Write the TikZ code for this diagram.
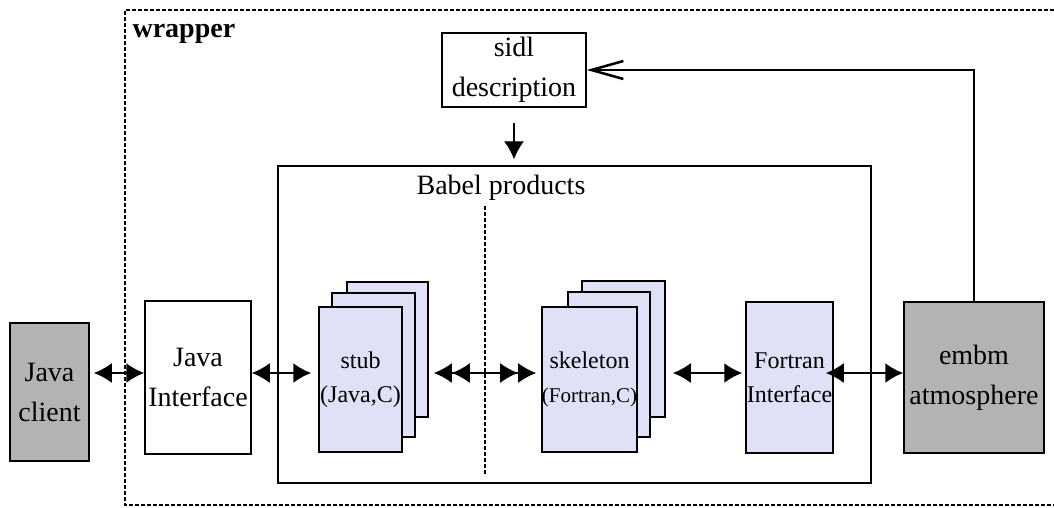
\documentclass[tikz,border=0pt]{standalone}
\usepackage{fontspec}
\setmainfont{Liberation Serif}
\usetikzlibrary{arrows.meta}
\definecolor{boxgray}{RGB}{179,179,179}
\definecolor{lavender}{RGB}{224,224,246}

\begin{document}
\begin{tikzpicture}[x=1pt,y=-1pt,>={Latex[length=18pt,width=20pt]},
	plain node/.style={draw,line width=1.5pt,inner sep=0pt,align=center,font=\fontsize{28}{40}\selectfont},
	grey node/.style={plain node,fill=boxgray},
	sheet node/.style={plain node,fill=lavender,font=\fontsize{24}{34}\selectfont},
	link/.style={<->,line width=2pt},
	fence/.style={dash pattern=on 4pt off 2pt,line width=1.2pt}]

	\useasboundingbox (0,0) rectangle (1054,507);

	% wrapper frame, open to the right
	\draw[fence] (1054,10) -- (125,10) -- (125,505) -- (1054,505);
	\node[font=\fontsize{28}{34}\selectfont\bfseries,anchor=base west] (wrap) at (129,37) {wrapper};

	% babel products
	\node[draw,line width=1.5pt,minimum width=593pt,minimum height=317pt] (babel) at (574.5,324.5) {};
	\node[font=\fontsize{28}{34}\selectfont] (babeltxt) at (501,188) {Babel products};
	\draw[fence] (485,206) -- (485,475);

	\node[plain node,minimum width=144pt,minimum height=74pt] (sidl) at (514,70) {sidl\\description};

	\node[grey node,minimum width=79pt,minimum height=138pt] (jc) at (49.5,392) {Java\\client};
	\node[plain node,minimum width=106pt,minimum height=153pt] (ji) at (198,377.5) {Java\\Interface};

	% stub pages
	\node[sheet node,minimum width=81pt,minimum height=135pt] (stubC) at (387.5,349.5) {};
	\node[sheet node,minimum width=83pt,minimum height=144pt] (stubB) at (373.5,365) {};
	\node[sheet node,minimum width=83pt,minimum height=145pt] (stub) at (360.5,379.5) {stub\\(Java,C)};

	% skeleton pages
	\node[sheet node,minimum width=83pt,minimum height=136pt] (skelC) at (623.5,349) {};
	\node[sheet node,minimum width=82pt,minimum height=145pt] (skelB) at (609,364.5) {};
	\node[sheet node,minimum width=95pt,minimum height=145pt] (skel) at (589.5,379.5) {skeleton\\{\fontsize{21}{30}\selectfont(Fortran,C)}};

	\node[sheet node,minimum width=87pt,minimum height=151pt] (fort) at (789.5,377.5) {Fortran\\Interface};
	\node[grey node,minimum width=140pt,minimum height=151pt] (embm) at (974,377.5) {embm\\atmosphere};

	\coordinate (lvl) at (0,373);

	\draw[link,shorten <=4pt] (jc.east |- lvl) -- (ji.west |- lvl);
	\draw[link,shorten >=7pt] (ji.east |- lvl) -- (stub.west |- lvl);
	\draw[<<->>,line width=2pt,shorten <=5pt,shorten >=5pt] (stubC.east |- lvl) -- (skel.west |- lvl);
	\draw[link,shorten <=7pt,shorten >=3pt] (skelC.east |- lvl) -- (fort.west |- lvl);
	\draw[link,shorten <=-8pt] (fort.east |- lvl) -- (embm.west |- lvl);

	\draw[->,line width=1.3pt,shorten <=15pt,shorten >=6pt] (sidl.south) -- (sidl.south |- babel.north);
	\draw[-{Straight Barb[length=32pt,width=18pt,line width=2.5pt]},line width=1.5pt] (embm.north) |- (sidl.east);

\end{tikzpicture}
\end{document}
